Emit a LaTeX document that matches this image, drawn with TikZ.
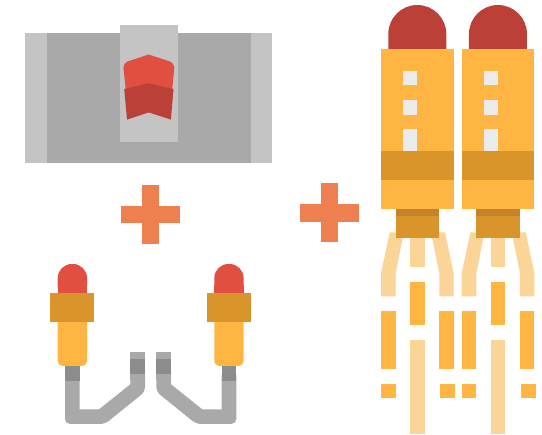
\documentclass[tikz,border=0pt]{standalone}
\definecolor{bodyorange}{HTML}{FFB541}
\definecolor{bandorange}{HTML}{DA942C}
\definecolor{neckorange}{HTML}{C4832A}
\definecolor{paleorange}{HTML}{FBD497}
\definecolor{tipred}{HTML}{E04F3F}
\definecolor{domered}{HTML}{BB4138}
\definecolor{plusorange}{HTML}{EE7F50}
\definecolor{lightgrey}{HTML}{C4C4C4}
\definecolor{midgrey}{HTML}{A9A9A9}
\definecolor{darkgrey}{HTML}{8C8C8C}
\definecolor{windowgrey}{HTML}{EBEBEB}
\begin{document}
\begin{tikzpicture}[x=1pt,y=-1pt]
        \useasboundingbox (0,0) rectangle (542,435);
        % control panel
        \fill[lightgrey] (25,32.7) rectangle (272.3,163.3);
        \fill[midgrey] (46.7,32.7) rectangle (250.7,163.3);
        \fill[lightgrey] (120,25.3) rectangle (177.7,141.7);
        \fill[tipred] (126,92) -- (123.4,67.5) -- (124.6,63.8) -- (127.5,61.5) -- (148.6,54.5) -- (170,61.5) -- (173,63.8) -- (174.3,67.5) -- (172,92) -- cycle;
        \fill[domered] (124.2,89) -- (148.6,83.3) -- (173.5,89) -- (170.9,119.6) -- (148.6,112.4) -- (127,119.6) -- cycle;
        % plus signs
        \foreach \x/\y in {150.5/214.5,329.3/212.8}{
            \fill[plusorange] (\x-29.7,\y-8.8) rectangle (\x+29.7,\y+8.8);
            \fill[plusorange] (\x-8.8,\y-29.6) rectangle (\x+8.8,\y+29.6);
        }
        % hand grips, second one is mirrored
        \foreach \s/\d in {1/0,-1/301.3}{
            \begin{scope}[xshift=\d pt,xscale=\s]
                \fill[tipred,rounded corners=14pt] (57.7,300) -- (57.7,264) -- (87,264) -- (87,300) -- cycle;
                \fill[tipred] (57.7,285) rectangle (87,300);
                \fill[bodyorange,rounded corners=5pt] (57.7,315) -- (57.7,366) -- (87,366) -- (87,315) -- cycle;
                \fill[bandorange] (50.3,293.3) rectangle (94.3,322.3);
                \fill[midgrey] (65,375) [rounded corners=5pt] -- (65,424) -- (105,424) -- (145,391.7) -- (145,370) [sharp corners] -- (130.3,370) -- (130.3,384.3) -- (99,409.3) -- (79.7,409.3) -- (79.7,375) -- cycle;
                \fill[midgrey] (130.3,351.7) rectangle (145,380);
                \fill[darkgrey] (65,366) rectangle (79.7,380.7);
                \fill[darkgrey] (130.3,359.3) rectangle (145,374);
            \end{scope}
        }
        % jet pack
        \foreach \d in {0,80.67}{
            \begin{scope}[xshift=\d pt]
                \fill[domered,rounded corners=29pt] (388.3,90) -- (388.3,5) -- (446.3,5) -- (446.3,90) -- cycle;
                \fill[paleorange] (389.7,232.3) -- (403.7,232.3) -- (395.7,273.3) -- (395.7,296.3) -- (381,296.3) -- (381,273.3) -- cycle;
                \fill[paleorange] (445,232.3) -- (431,232.3) -- (439.3,273.3) -- (439.3,296.3) -- (453.7,296.3) -- (453.7,273.3) -- cycle;
                \fill[paleorange] (410.3,230) rectangle (424.7,267);
                \fill[bandorange] (395.7,205) rectangle (439.3,238);
                \fill[neckorange] (395.7,205) rectangle (439.3,216);
                \fill[bodyorange] (381,49.3) rectangle (453.7,209);
                \fill[bandorange] (381,151) rectangle (453.7,180);
                \foreach \a/\b in {71/85.3,100/114.7,129.3/151}{\fill[windowgrey] (403,\a) rectangle (417.3,\b);}
                \fill[bodyorange] (410.3,281.7) rectangle (424.7,325.3);
                \fill[bodyorange] (381,310.7) rectangle (395.7,369);
                \fill[bodyorange] (439.3,310.7) rectangle (453.7,369);
                \fill[bodyorange] (381,383.7) rectangle (395.7,398);
                \fill[bodyorange] (440.3,383.7) rectangle (455,398);
                \fill[paleorange] (410.3,340) rectangle (424.7,434.3);
            \end{scope}
        }
    \end{tikzpicture}
\end{document}
